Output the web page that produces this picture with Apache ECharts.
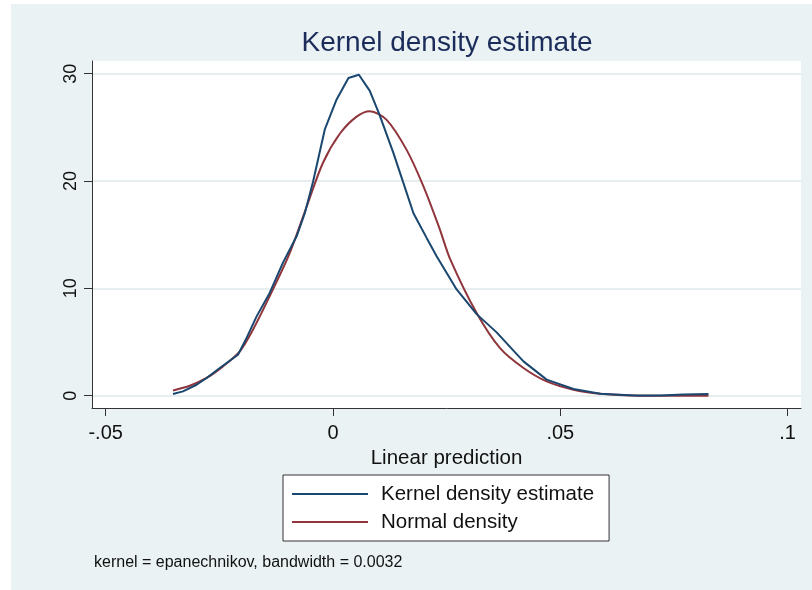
<!DOCTYPE html>
<html>
<head>
<meta charset="utf-8">
<script src="https://cdn.jsdelivr.net/npm/echarts@6/dist/echarts.min.js"></script>
<style>
html,body{margin:0;padding:0;background:#fff;}
#chart{width:812px;height:590px;}
</style>
</head>
<body>
<div id="chart"></div>
<script>
// Kernel density estimate (blue)
var kdX = [-0.0352,-0.0330,-0.0300,-0.0278,-0.0249,-0.0209,-0.0190,-0.0168,-0.0139,-0.0110,-0.0080,-0.0062,-0.0044,-0.0018,0.0008,0.0034,0.0057,0.0081,0.0102,0.0133,0.0155,0.0177,0.0206,0.0228,0.0272,0.0316,0.0360,0.0397,0.0419,0.0470,0.0529,0.0588,0.0661,0.0720,0.0771,0.0826];
var kdY = [0.16,0.40,1.02,1.65,2.58,3.82,5.38,7.39,9.6,12.4,14.85,17.0,19.9,24.8,27.6,29.6,29.9,28.4,26.2,22.6,19.8,17.0,14.7,13.0,9.9,7.6,5.9,4.2,3.2,1.5,0.62,0.19,0.03,0.03,0.12,0.16];
// Normal density (red)
var nX = [-0.0352,-0.0315,-0.0278,-0.0242,-0.0205,-0.0176,-0.0132,-0.0095,-0.0058,-0.0022,0.0015,0.0052,0.0081,0.0118,0.0162,0.0199,0.0235,0.0258,0.0316,0.0368,0.0419,0.0470,0.0529,0.0588,0.0661,0.0742,0.0826];
var nY = [0.49,0.93,1.65,2.73,4.13,6.15,9.9,13.3,17.6,21.7,24.4,26.0,26.5,25.7,22.9,19.5,15.5,12.7,7.7,4.4,2.58,1.33,0.56,0.19,0.03,0.0,0.0];
// Tick values and labels
var xTicks = [-0.05, 0, 0.05, 0.1];
var xTickLabels = ['-.05', '0', '.05', '.1'];
var yTicks = [0, 10, 20, 30];
var seriesNames = ['Kernel density estimate', 'Normal density'];
var titleText = 'Kernel density estimate';
var xTitle = 'Linear prediction';
var noteText = 'kernel = epanechnikov, bandwidth = 0.0032';

function pairs(xs, ys) { return xs.map(function (x, i) { return [x, ys[i]]; }); }

var FONT = "'Liberation Sans', Arial, Helvetica, sans-serif";
var BG = '#EAF2F3';
var chart = echarts.init(document.getElementById('chart'), null, {renderer: 'canvas'});

chart.setOption({
  backgroundColor: '#ffffff',
  animation: false,
  textStyle: {fontFamily: FONT},
  graphic: [
    {type: 'rect', z: -100, silent: true, shape: {x: 11, y: 4, width: 801, height: 586}, style: {fill: BG}},
    {type: 'text', x: 447, y: 43, style: {text: titleText, fontFamily: FONT, fontSize: 28, fill: '#1c2c5a', align: 'center', verticalAlign: 'middle'}},
    {type: 'text', x: 94, y: 563, style: {text: noteText, fontFamily: FONT, fontSize: 16, fill: '#111', align: 'left', verticalAlign: 'middle'}}
  ],
  grid: {left: 92, top: 61, width: 709, height: 347, show: true, backgroundColor: '#ffffff', borderWidth: 0, containLabel: false},
  xAxis: {
    type: 'value', min: -0.05301, max: 0.10295,
    name: xTitle, nameLocation: 'middle', nameGap: 34,
    nameTextStyle: {fontFamily: FONT, fontSize: 20.5, color: '#111'},
    axisLine: {show: true, onZero: false, lineStyle: {color: '#333', width: 1}},
    axisTick: {show: true, length: 8, customValues: xTicks, lineStyle: {color: '#333'}},
    axisLabel: {show: true, customValues: xTicks, margin: 15, fontFamily: FONT, fontSize: 20, color: '#111',
      formatter: function (v) { var i = xTicks.indexOf(v); return i >= 0 ? xTickLabels[i] : ''; }},
    splitLine: {show: false}
  },
  yAxis: {
    type: 'value', min: -1.146, max: 31.18,
    axisLine: {show: true, onZero: false, lineStyle: {color: '#333', width: 1}},
    axisTick: {show: true, length: 8, customValues: yTicks, lineStyle: {color: '#333'}},
    axisLabel: {show: true, customValues: yTicks, rotate: 90, margin: 12, fontFamily: FONT, fontSize: 18, color: '#111'},
    splitLine: {show: true, lineStyle: {color: '#E6EEF0', width: 2}}
  },
  legend: {
    orient: 'vertical', left: 283, top: 475,
    padding: [8, 15, 8, 9],
    icon: 'rect',
    itemWidth: 76, itemHeight: 2, itemGap: 6,
    backgroundColor: '#ffffff', borderColor: '#333', borderWidth: 1, borderRadius: 0,
    textStyle: {fontFamily: FONT, fontSize: 20.5, lineHeight: 22, color: '#111', padding: [0, 0, 0, 8]},
    data: seriesNames
  },
  series: [
    {name: seriesNames[0], type: 'line', data: pairs(kdX, kdY), symbol: 'none', smooth: false,
      lineStyle: {color: '#1a476f', width: 2}, itemStyle: {color: '#1a476f'}, z: 3},
    {name: seriesNames[1], type: 'line', data: pairs(nX, nY), symbol: 'none', smooth: 0.3,
      lineStyle: {color: '#90353b', width: 2}, itemStyle: {color: '#90353b'}, z: 2}
  ]
});
</script>
</body>
</html>
